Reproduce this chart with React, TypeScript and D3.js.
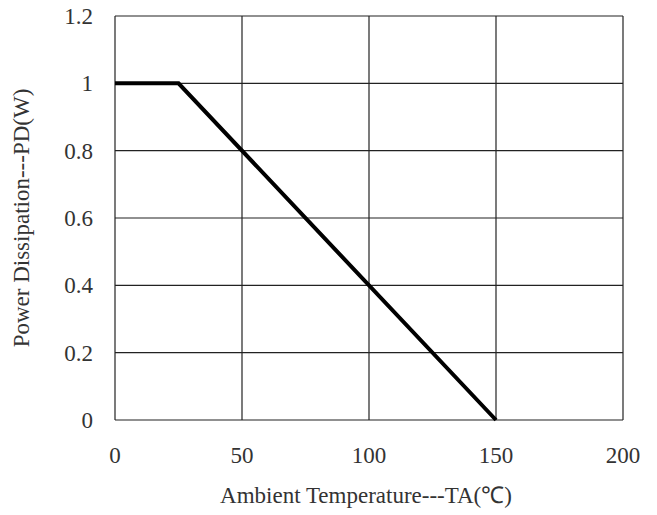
import React, { useEffect, useRef } from 'react';
import * as d3 from 'd3';

// derating curve
const temps = [0, 25, 150];
const power = [1, 1, 0];
const xTicks = [0, 50, 100, 150, 200];
const yTicks = [0, 0.2, 0.4, 0.6, 0.8, 1, 1.2];

const W = 657;
const H = 515;
const FONT = '"Liberation Serif", "Times New Roman", serif';

export default function App() {
    const ref = useRef<SVGSVGElement>(null);

    useEffect(() => {
        const svg = d3.select(ref.current);
        svg.selectAll('*').remove();

        const x = d3.scaleLinear().domain([0, 200]).range([115, 623]);
        const y = d3.scaleLinear().domain([0, 1.2]).range([420, 16]);

        svg.append('rect').attr('width', W).attr('height', H).attr('fill', '#fff');

        // grid
        const grid = svg.append('g').attr('stroke', '#222').attr('stroke-width', 1.2);
        grid.selectAll('.vx')
            .data(xTicks)
            .enter()
            .append('line')
            .attr('x1', (d) => x(d))
            .attr('x2', (d) => x(d))
            .attr('y1', y(0))
            .attr('y2', y(1.2));
        grid.selectAll('.hy')
            .data(yTicks)
            .enter()
            .append('line')
            .attr('x1', x(0))
            .attr('x2', x(200))
            .attr('y1', (d) => y(d))
            .attr('y2', (d) => y(d));

        // tick labels
        svg.selectAll('.yl')
            .data(yTicks)
            .enter()
            .append('text')
            .attr('x', 93)
            .attr('y', (d) => y(d) + 8)
            .attr('text-anchor', 'end')
            .attr('font-family', FONT)
            .attr('font-size', 23)
            .attr('fill', '#333')
            .text((d) => d3.format('~g')(d));

        svg.selectAll('.xl')
            .data(xTicks)
            .enter()
            .append('text')
            .attr('x', (d) => x(d))
            .attr('y', 463)
            .attr('text-anchor', 'middle')
            .attr('font-family', FONT)
            .attr('font-size', 23)
            .attr('fill', '#333')
            .text((d) => d);

        // curve
        const pts = temps.map((t, i) => [t, power[i]] as [number, number]);
        const line = d3.line<[number, number]>()
            .x((d) => x(d[0]))
            .y((d) => y(d[1]));
        svg.append('path')
            .attr('d', line(pts))
            .attr('fill', 'none')
            .attr('stroke', '#000')
            .attr('stroke-width', 4);

        // axis titles
        svg.append('text')
            .attr('x', 366)
            .attr('y', 503)
            .attr('text-anchor', 'middle')
            .attr('font-family', FONT)
            .attr('font-size', 23)
            .attr('fill', '#333')
            .text('Ambient Temperature---TA(℃)');

        svg.append('text')
            .attr('transform', 'translate(29, 218) rotate(-90)')
            .attr('text-anchor', 'middle')
            .attr('font-family', FONT)
            .attr('font-size', 23)
            .attr('fill', '#333')
            .text('Power Dissipation---PD(W)');
    }, []);

    return <svg ref={ref} width={W} height={H} style={{ position: 'absolute', left: 0, top: 0 }} />;
}
